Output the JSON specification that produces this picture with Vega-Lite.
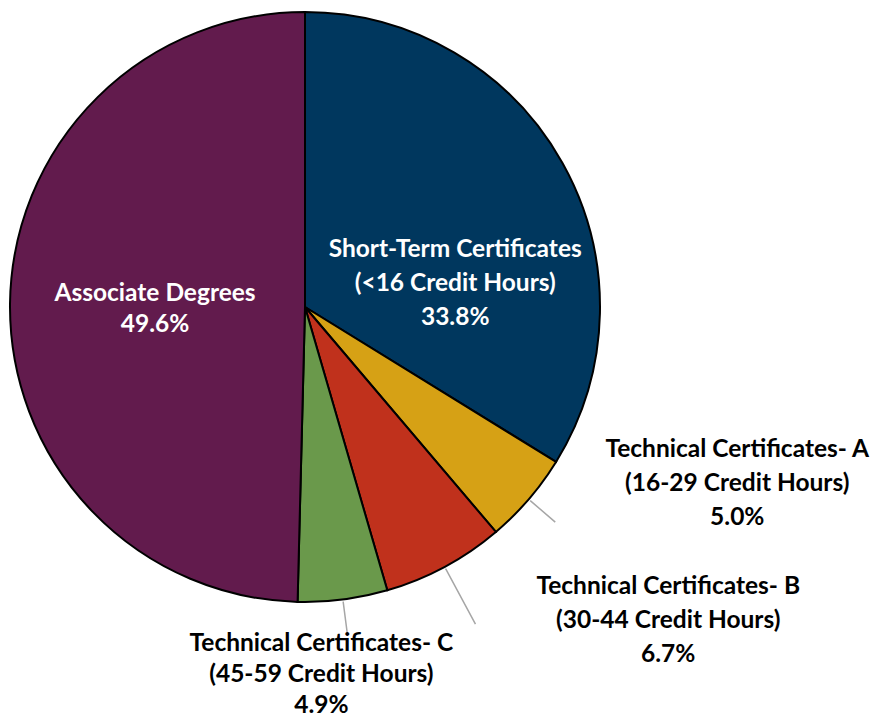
{
  "$schema": "https://vega.github.io/schema/vega-lite/v6.json",
  "width": 610,
  "height": 614,
  "autosize": "none",
  "padding": {"left": 0, "top": 0, "right": 264, "bottom": 107},
  "background": "white",
  "data": {
    "values": [
      {"idx": 1, "category": "Short-Term Certificates", "pct": 33.8, "label": "Short-Term Certificates\n(<16 Credit Hours)\n33.8%"},
      {"idx": 2, "category": "Technical Certificates- A", "pct": 5.0, "label": "Technical Certificates- A\n(16-29 Credit Hours)\n5.0%"},
      {"idx": 3, "category": "Technical Certificates- B", "pct": 6.7, "label": "Technical Certificates- B\n(30-44 Credit Hours)\n6.7%"},
      {"idx": 4, "category": "Technical Certificates- C", "pct": 4.9, "label": "Technical Certificates- C\n(45-59 Credit Hours)\n4.9%"},
      {"idx": 5, "category": "Associate Degrees", "pct": 49.6, "label": "Associate Degrees\n49.6%"}
    ]
  },
  "transform": [
    {"window": [{"op": "sum", "field": "pct", "as": "cum"}], "sort": [{"field": "idx"}], "frame": [null, 0]},
    {"calculate": "datum.cum - datum.pct / 2", "as": "mid"}
  ],
  "layer": [
    {
      "mark": {"type": "arc", "radius": 295, "stroke": "black", "strokeWidth": 2},
      "encoding": {
        "theta": {"field": "pct", "type": "quantitative", "stack": true, "scale": {"domain": [0, 100]}},
        "order": {"field": "idx", "sort": "ascending"},
        "color": {
          "field": "category",
          "type": "nominal",
          "legend": null,
          "scale": {
            "domain": ["Short-Term Certificates", "Technical Certificates- A", "Technical Certificates- B", "Technical Certificates- C", "Associate Degrees"],
            "range": ["#00375E", "#D6A115", "#C0311C", "#6A994B", "#621B4D"]
          }
        }
      }
    },
    {
      "transform": [{"filter": "datum.idx == 2 || datum.idx == 4"}],
      "mark": {"type": "arc", "radius": 330, "radius2": 297, "stroke": "#A6A6A6", "strokeWidth": 1.5, "fill": null},
      "encoding": {
        "theta": {"field": "mid", "type": "quantitative", "stack": null},
        "theta2": {"field": "mid"}
      }
    },
    {
      "transform": [{"filter": "datum.idx == 3"}],
      "mark": {"type": "arc", "radius": 360, "radius2": 297, "stroke": "#A6A6A6", "strokeWidth": 1.5, "fill": null},
      "encoding": {
        "theta": {"field": "mid", "type": "quantitative", "stack": null},
        "theta2": {"field": "mid"}
      }
    },
    {
      "transform": [{"filter": "datum.idx == 1"}],
      "mark": {"type": "text", "radius": 172, "dy": 27, "lineBreak": "\n", "lineHeight": 34, "font": "Lato", "fontWeight": "bold", "fontSize": 24.5, "fill": "white", "align": "center", "baseline": "middle"},
      "encoding": {
        "theta": {"field": "mid", "type": "quantitative", "stack": null},
        "text": {"field": "label"}
      }
    },
    {
      "transform": [{"filter": "datum.idx == 5"}],
      "mark": {"type": "text", "radius": 150, "dy": -11, "lineBreak": "\n", "lineHeight": 31, "font": "Lato", "fontWeight": "bold", "fontSize": 24.5, "fill": "white", "align": "center", "baseline": "middle"},
      "encoding": {
        "theta": {"field": "mid", "type": "quantitative", "stack": null},
        "text": {"field": "label"}
      }
    },
    {
      "transform": [{"filter": "datum.idx == 2"}],
      "mark": {"type": "text", "radius": 330, "dx": 182, "dy": -72, "lineBreak": "\n", "lineHeight": 34, "font": "Lato", "fontWeight": "bold", "fontSize": 24.5, "fill": "black", "align": "center", "baseline": "middle"},
      "encoding": {
        "theta": {"field": "mid", "type": "quantitative", "stack": null},
        "text": {"field": "label"}
      }
    },
    {
      "transform": [{"filter": "datum.idx == 3"}],
      "mark": {"type": "text", "radius": 330, "dx": 207, "dy": -11, "lineBreak": "\n", "lineHeight": 34, "font": "Lato", "fontWeight": "bold", "fontSize": 24.5, "fill": "black", "align": "center", "baseline": "middle"},
      "encoding": {
        "theta": {"field": "mid", "type": "quantitative", "stack": null},
        "text": {"field": "label"}
      }
    },
    {
      "transform": [{"filter": "datum.idx == 4"}],
      "mark": {"type": "text", "radius": 330, "dx": -26, "dy": 10, "lineBreak": "\n", "lineHeight": 31, "font": "Lato", "fontWeight": "bold", "fontSize": 24.5, "fill": "black", "align": "center", "baseline": "middle"},
      "encoding": {
        "theta": {"field": "mid", "type": "quantitative", "stack": null},
        "text": {"field": "label"}
      }
    }
  ],
  "config": {"view": {"stroke": null}}
}
